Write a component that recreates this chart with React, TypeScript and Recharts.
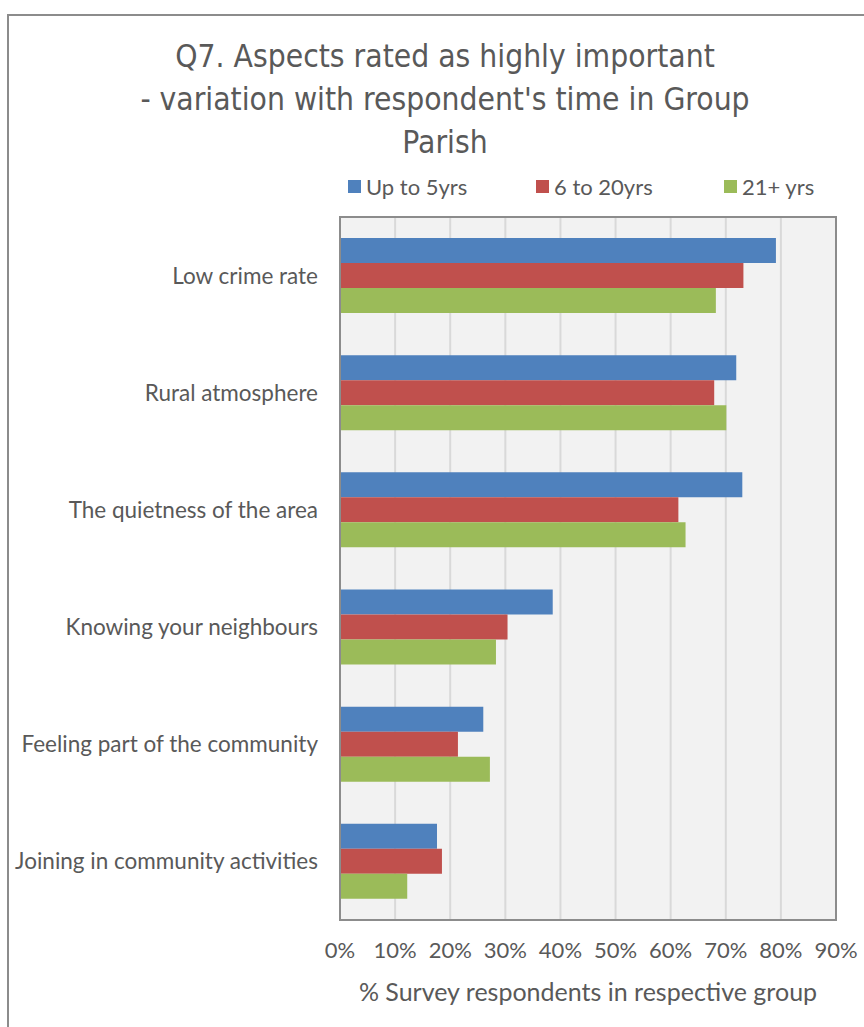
import { BarChart, Bar, XAxis, YAxis, CartesianGrid } from "recharts";

const categories = [
  "Low crime rate",
  "Rural atmosphere",
  "The quietness of the area",
  "Knowing your neighbours",
  "Feeling part of the community",
  "Joining in community activities",
];
const upTo5 = [79.1, 71.9, 73.0, 38.6, 26.0, 17.6];
const sixTo20 = [73.2, 67.9, 61.4, 30.4, 21.4, 18.5];
const over21 = [68.2, 70.1, 62.7, 28.3, 27.2, 12.2];
const seriesNames = ["Up to 5yrs", "6 to 20yrs", "21+ yrs"];
const seriesColors = ["#4f81bd", "#c0504d", "#9bbb59"];
const xTicks = [0, 10, 20, 30, 40, 50, 60, 70, 80, 90];

const data = categories.map((name, i) => ({
  name,
  a: upTo5[i],
  b: sixTo20[i],
  c: over21[i],
}));

const FONT = "Lato, 'Open Sans', sans-serif";
const GREY = "#595959";

export default function App() {
  return (
    <div style={{ position: "absolute", left: 0, top: 0, width: 864, height: 1027, overflow: "hidden", background: "#fff" }}>
      <div style={{ position: "absolute", left: 7, top: 14, width: 900, height: 1100, border: "2px solid #8c8c8c" }} />
      <div
        style={{
          position: "absolute", left: 40, width: 810, top: 35, textAlign: "center",
          fontFamily: "'DejaVu Sans Condensed', sans-serif",
          fontSize: 31.5, lineHeight: "43px", color: GREY,
        }}
      >
        Q7. Aspects rated as highly important
        <br />- variation with respondent's time in Group
        <br />Parish
      </div>

      {/* legend */}
      <div style={{ position: "absolute", left: 348, top: 173, display: "flex", fontFamily: FONT, fontSize: 22, color: GREY }}>
        {seriesNames.map((n, i) => (
          <div key={n} style={{ width: 188, display: "flex", alignItems: "center" }}>
            <span style={{ width: 13, height: 13, background: seriesColors[i], marginRight: 5, display: "inline-block" }} />
            {n}
          </div>
        ))}
      </div>

      <BarChart
        width={864}
        height={1027}
        data={data}
        layout="vertical"
        margin={{ top: 217, right: 28, bottom: 47, left: 0 }}
        barSize={25}
        barGap={0}
        style={{ position: "absolute", left: 0, top: 0 }}
      >
        <CartesianGrid horizontal={false} stroke="#d9d9d9" strokeWidth={2} fill="#f2f2f2" />
        <XAxis
          type="number"
          domain={[0, 90]}
          ticks={xTicks}
          tickFormatter={(v: number) => `${v}%`}
          height={60}
          tickSize={0}
          tickMargin={22}
          axisLine={false}
          tick={{ fontFamily: FONT, fontSize: 22, fill: GREY }}
        />
        <YAxis
          type="category"
          dataKey="name"
          width={340}
          tickSize={0}
          tickMargin={22}
          axisLine={false}
          tick={{ fontFamily: FONT, fontSize: 22.5, fill: GREY }}
        />
        <Bar dataKey="a" name={seriesNames[0]} fill={seriesColors[0]} isAnimationActive={false} />
        <Bar dataKey="b" name={seriesNames[1]} fill={seriesColors[1]} isAnimationActive={false} />
        <Bar dataKey="c" name={seriesNames[2]} fill={seriesColors[2]} isAnimationActive={false} />
      </BarChart>
      <div style={{ position: "absolute", left: 339, top: 216, width: 498, height: 705, border: "2px solid #8c8c8c", boxSizing: "border-box", pointerEvents: "none" }} />
      <div
        style={{
          position: "absolute", left: 300, width: 576, top: 976, textAlign: "center",
          fontFamily: FONT, fontSize: 25, color: GREY,
        }}
      >
        % Survey respondents in respective group
      </div>
    </div>
  );
}
